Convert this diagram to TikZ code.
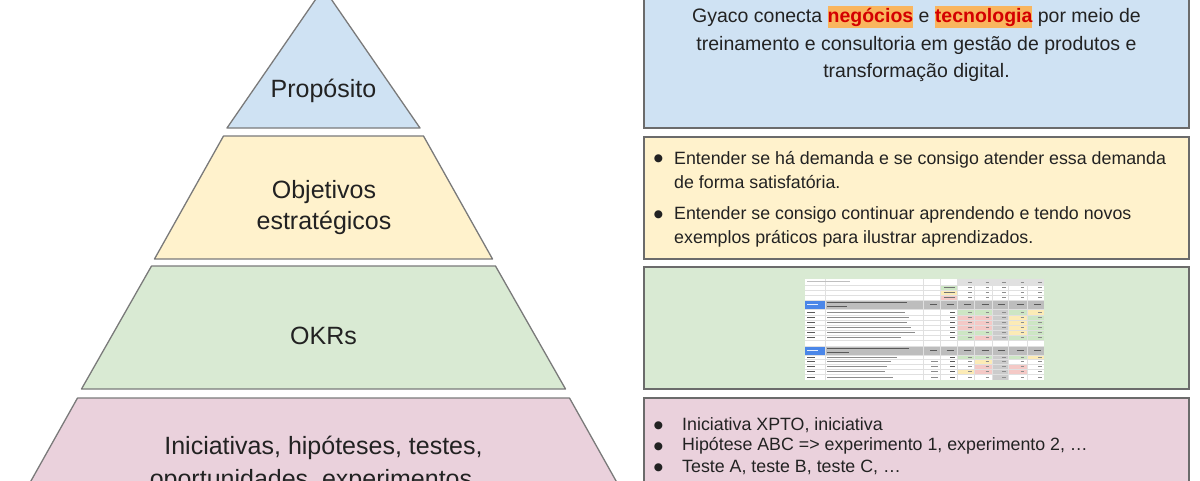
\documentclass[tikz,border=0pt]{standalone}
\usepackage{fontspec}
\setmainfont{Liberation Sans}
\newfontfamily\dejavu{DejaVu Sans}
\definecolor{tblue}{HTML}{CFE2F3}
\definecolor{tyellow}{HTML}{FFF2CC}
\definecolor{tgreen}{HTML}{D9EAD3}
\definecolor{tpink}{HTML}{EAD1DC}
\definecolor{edgec}{HTML}{7A7A7A}
\definecolor{boxedge}{HTML}{6B6B6B}
\definecolor{txt}{HTML}{222222}
\definecolor{hl}{HTML}{F9B55E}
\definecolor{hlred}{HTML}{D40000}
\definecolor{cg}{HTML}{CDE6C4}
\definecolor{cy}{HTML}{FCEBB6}
\definecolor{cp}{HTML}{F4C9C6}
\definecolor{cgr}{HTML}{CCCCCC}
\definecolor{chd}{HTML}{BDBDBD}
\definecolor{cbl}{HTML}{4A86E8}
\newcommand{\hlw}[1]{{\setlength{\fboxsep}{0pt}\colorbox{hl}{\rule[-5pt]{0pt}{22pt}\textbf{\textcolor{hlred}{#1}}}}}
\begin{document}
\begin{tikzpicture}[x=1pt,y=-1pt,
  tier/.style={draw=edgec, line width=1.3pt, line join=round},
  rbox/.style={draw=boxedge, line width=1.6pt},
  lbl/.style={font=\fontsize{25}{31}\selectfont, text=txt, align=center, inner sep=0pt},
  btxt/.style={font=\fontsize{17.8}{24}\selectfont, text=txt, align=left, anchor=west, inner sep=0pt},
  bdot/.style={font=\dejavu\fontsize{10.5}{11}\selectfont, text=txt, inner sep=0pt, anchor=center},
  tbar/.style={line width=1.2pt, draw=black!45},
  tdark/.style={line width=1.3pt, draw=black!65},
  gridl/.style={line width=0.4pt, draw=black!12}]
\useasboundingbox (0,0) rectangle (1200,480);
\clip (0,0) rectangle (1200,480);
% ---------- pyramid ----------
\path[tier, fill=tblue] (227,128) -- (323.5,-12) -- (420,128) -- cycle;
\path[tier, fill=tyellow] (223.5,136) -- (423.5,136) -- (492.5,259) -- (154.5,259) -- cycle;
\path[tier, fill=tgreen] (151.5,266) -- (495.5,266) -- (565.5,389) -- (81.5,389) -- cycle;
\path[tier, fill=tpink] (77.5,398) -- (569.5,398) -- (620,488) -- (27,488) -- cycle;
\node[lbl] (proposito) at (323.5,91) {Propósito};
\node[lbl] (objetivos) at (324,208) {Objetivos\\estratégicos};
\node[lbl] (okrs) at (323.5,336) {OKRs};
\node[lbl, font=\fontsize{25}{33}\selectfont] (iniciativas) at (323.5,464) {Iniciativas, hipóteses, testes,\\oportunidades, experimentos…};
% ---------- right boxes ----------
\path[rbox, fill=tblue] (644,-5) rectangle (1189,128);
\path[rbox, fill=tyellow] (644,137) rectangle (1189,259);
\path[rbox, fill=tgreen] (644,267) rectangle (1189,389);
\path[rbox, fill=tpink] (644,398) rectangle (1189,492);
\node[font=\fontsize{19.5}{27.5}\selectfont, text=txt, align=center, inner sep=0pt] (missao) at (916.5,44)
  {Gyaco conecta \hlw{negócios} e \hlw{tecnologia} por meio de\\treinamento e consultoria em gestão de produtos e\\transformação digital.};
\node[bdot] (d1) at (658.5,158.5) {●};
\node[btxt] (obj1) at (674,170) {Entender se há demanda e se consigo atender essa demanda\\de forma satisfatória.};
\node[bdot] (d2) at (658.5,215) {●};
\node[btxt] (obj2) at (674,226.5) {Entender se consigo continuar aprendendo e tendo novos\\exemplos práticos para ilustrar aprendizados.};
\node[bdot] (d3) at (658.5,425.5) {●};
\node[btxt] (in1) at (682,425) {Iniciativa XPTO, iniciativa};
\node[bdot] (d4) at (658.5,446.5) {●};
\node[btxt] (in2) at (682,446) {Hipótese ABC => experimento 1, experimento 2, …};
\node[bdot] (d5) at (658.5,467.5) {●};
\node[btxt] (in3) at (682,467) {Teste A, teste B, teste C, …};
% ---------- OKR spreadsheet (illegible screenshot) ----------
\fill[white] (805,279) rectangle (1044,380);
\fill[black!12] (956.7,279.3) rectangle (1044,285);
\fill[cg] (940,285) rectangle (956.7,290);
\fill[cy] (940,290) rectangle (956.7,295);
\fill[cp] (940,295) rectangle (956.7,300);
\fill[chd] (825,300) rectangle (1044,309.3);
\fill[cbl] (805,300) rectangle (825,309.3);
\fill[chd] (825,346) rectangle (1044,355);
\fill[cbl] (805,346) rectangle (825,355);
\foreach \ya/\yb/\ca/\cb/\cd/\ce in {310/315/cg/cg/cg/cy, 315/320/cp/cp/cy/cg, 320/325/cp/cp/cy/cg, 325/330/cp/cp/cy/cg, 330/335/cg/cg/cy/cg, 335/340/cg/cp/cg/cg, 355/359.3/cg/cg/cg/cy, 359.3/364.3/white/cy/white/white, 364.3/369.3/white/cp/cp/white, 369.3/374.3/cy/cp/cp/white, 374.3/380/white/white/white/white}{
  \fill[\ca] (956.7,\ya) rectangle (974,\yb);
  \fill[\cb] (974,\ya) rectangle (991.7,\yb);
  \fill[\cd] (1008.3,\ya) rectangle (1026.7,\yb);
  \fill[\ce] (1026.7,\ya) rectangle (1044,\yb);
}
\fill[cgr] (991.7,310) rectangle (1008.3,340);
\fill[cgr] (991.7,355) rectangle (1008.3,380);
\foreach \y in {285,290,295,300,309.3,315,320,325,330,335,340,346,355,359.3,364.3,369.3,374.3}
  \draw[gridl] (805,\y) -- (1044,\y);
\foreach \x in {825,923.3,940,956.7,974,991.7,1008.3,1026.7}
  \draw[gridl] (\x,279.3) -- (\x,380);
\draw[tbar, draw=black!25] (807,281.5) -- (850,281.5);
\foreach \y in {282.2,287.5,292.5,297.5}{
  \foreach \x in {974,991.7,1008.3,1026.7,1044}
    \draw[tbar] (\x-6,\y) -- (\x-2.5,\y);
}
\foreach \y in {287.5,292.5,297.5} \draw[tdark, draw=black!55] (944,\y) -- (955,\y);
\foreach \y/\w in {302.5/80, 306.5/20, 348.5/82, 352.5/22}{
  \draw[tdark] (827,\y) -- (827+\w,\y);
}
\foreach \y in {304.6,350.5}{
  \draw[line width=1.2pt, draw=white!85!cbl] (807,\y) -- (818,\y);
  \foreach \x in {940,956.7,974,991.7,1008.3,1026.7,1044}
    \draw[tdark] (\x-10,\y) -- (\x-3,\y);
}
\foreach \y/\w in {312.5/78, 317.5/82, 322.5/80, 327.5/84, 332.5/88, 337.5/74, 357.2/70, 361.8/64, 366.8/60, 371.8/58, 377.2/66}{
  \draw[tdark] (807,\y) -- (815,\y);
  \draw[tbar] (827,\y) -- (827+\w,\y);
  \draw[tdark] (950,\y) -- (955,\y);
  \foreach \x in {974,991.7,1008.3,1026.7,1044}
    \draw[tbar] (\x-6,\y) -- (\x-2.5,\y);
}
\foreach \y in {361.8,366.8,371.8,377.2}
  \draw[tbar] (931,\y) -- (938,\y);
\end{tikzpicture}
\end{document}
